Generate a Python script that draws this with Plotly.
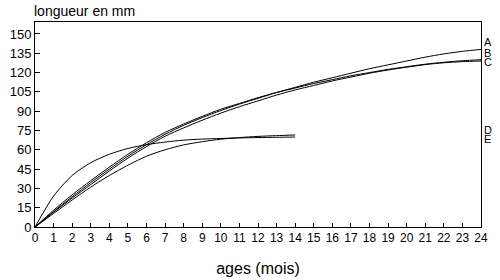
import plotly.graph_objects as go

# growth curves (length in mm vs age in months)
months_ac = list(range(0, 25))
curve_a = [0, 12, 23.5, 34.5, 45, 55, 64, 72, 79, 85, 90.5, 95.5, 100, 104.5, 108.5,
           112.5, 116, 119.5, 123, 126, 129, 132, 134.5, 136.5, 138]
curve_b = [0, 13, 25, 36, 46.5, 56.5, 65.5, 73.5, 80, 86, 91.5, 96, 100.5, 104.5, 108,
           111.5, 114.5, 117.5, 120, 122.5, 124.5, 126.5, 128, 129.2, 130]
curve_c = [0, 11.5, 22.5, 33, 43.5, 53.5, 62.5, 70.5, 77, 83, 88.5, 93.5, 98, 102.5, 106.5,
           110, 113.5, 116.5, 119.5, 122, 124.2, 126.2, 127.6, 128.5, 129]
months_de = list(range(0, 15))
curve_d = [0, 24, 40, 50, 56.5, 61, 64, 66, 67.5, 68.3, 68.8, 69.2, 69.5, 69.7, 69.9]
curve_e = [0, 10.5, 21, 31, 40, 48, 55, 60, 63.8, 66.3, 68.2, 69.5, 70.4, 71, 71.5]

series = [(months_ac, curve_a), (months_ac, curve_b), (months_ac, curve_c),
          (months_de, curve_d), (months_de, curve_e)]

curve_labels = ["A", "B", "C", "D", "E"]
label_y = [143.4, 135.4, 128.0, 75.6, 68.0]

x_ticks = list(range(0, 25))
y_ticks = list(range(0, 151, 15))

FONT = "Liberation Sans, Arial, sans-serif"

fig = go.Figure()
for xs, ys in series:
    fig.add_trace(go.Scatter(x=xs, y=ys, mode="lines",
                             line=dict(color="black", width=1, shape="spline", smoothing=0.8),
                             hoverinfo="skip", showlegend=False))

for name, yv in zip(curve_labels, label_y):
    fig.add_annotation(text=name, x=1, xref="paper", y=yv, yref="y",
                       xanchor="left", yanchor="middle", xshift=1, showarrow=False,
                       font=dict(size=11, color="black", family=FONT))

fig.add_annotation(text="longueur en mm", x=0, xref="paper", y=1, yref="paper",
                   xanchor="left", yanchor="bottom", xshift=-3, yshift=1, showarrow=False,
                   font=dict(size=14, color="black", family=FONT))

fig.update_layout(
    width=500, height=280,
    margin=dict(l=35, r=19, t=22, b=53),
    paper_bgcolor="white", plot_bgcolor="white",
    font=dict(family=FONT, color="black"),
)
fig.update_xaxes(range=[0, 24], tickvals=x_ticks, ticks="inside", ticklen=4,
                 tickcolor="black", showline=True, linecolor="black", linewidth=1,
                 mirror=True, showgrid=False, zeroline=False, automargin=False,
                 tickfont=dict(size=12, family=FONT),
                 title=dict(text="ages (mois)", font=dict(size=16, family=FONT), standoff=18))
fig.update_yaxes(range=[0, 159.3], tickvals=y_ticks, ticks="inside", ticklen=5,
                 tickcolor="black", showline=True, linecolor="black", linewidth=1,
                 mirror=True, showgrid=False, zeroline=False, automargin=False,
                 tickfont=dict(size=13, family=FONT))

# the page body has a default 8px margin; drop it so the figure sits at the corner
fig.write_html("out.html", config={"displayModeBar": False},
               post_script="document.body.style.margin='0';")
